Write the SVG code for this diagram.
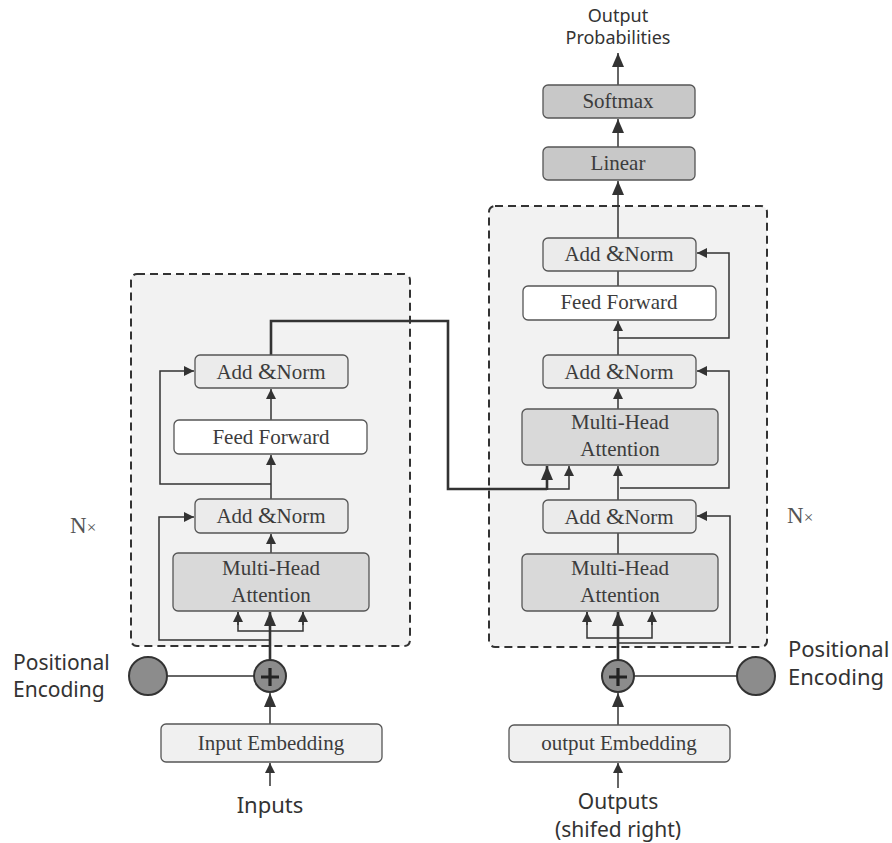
<svg xmlns="http://www.w3.org/2000/svg" width="892" height="843" viewBox="0 0 892 843">
<style>
.frame{fill:#f2f2f2;stroke:#333;stroke-width:2;stroke-dasharray:8 5}
.box{stroke:#555;stroke-width:1.3}
.an{fill:#ebebeb}.ff{fill:#ffffff}.mha{fill:#d9d9d9}.dk{fill:#c8c8c8}.emb{fill:#f0f0f0}
.t{font-family:"Liberation Serif","Times New Roman",serif;font-size:21px;fill:#3c3c3c;text-anchor:middle}
.s{font-family:"Noto Sans","Open Sans","DejaVu Sans",sans-serif;fill:#333}
.circ{fill:#8c8c8c;stroke:#333;stroke-width:2}
.c{fill:none;stroke:#333;stroke-width:1.5}
.ck{fill:none;stroke:#333;stroke-width:2.6}
.a{marker-end:url(#ar)}
.ak{marker-end:url(#ark)}
.nx{font-family:"Liberation Serif","Times New Roman",serif;font-size:23px;fill:#555}
</style>
<defs>
<marker id="ar" markerUnits="userSpaceOnUse" markerWidth="10" markerHeight="12" viewBox="0 0 10 12" refX="10" refY="6" orient="auto"><path d="M0,1 L10,6 L0,11 Z" fill="#333"/></marker>
<marker id="ark" markerUnits="userSpaceOnUse" markerWidth="14" markerHeight="14" viewBox="0 0 14 14" refX="14" refY="7" orient="auto"><path d="M0,1 L14,7 L0,13 Z" fill="#333"/></marker>
</defs>

<g id="encoder-frame"><rect class="frame" x="131" y="274" width="279" height="372" rx="6"/></g>
<g id="decoder-frame"><rect class="frame" x="489" y="206" width="278" height="441" rx="6"/></g>

<g id="connectors">
<!-- encoder -->
<line class="c a" x1="270" y1="786" x2="270" y2="763"/>
<line class="c ak" x1="270" y1="724" x2="270" y2="693"/>
<line class="c" x1="167" y1="676" x2="254" y2="676"/>
<line class="ck ak" x1="270" y1="660" x2="270" y2="612"/>
<polyline class="c" points="238,612 238,631 303,631 303,612"/>
<line class="c a" x1="238" y1="625" x2="238" y2="612"/>
<line class="c a" x1="303" y1="625" x2="303" y2="612"/>
<polyline class="c a" points="270,640 159,640 159,517 194,517"/>
<line class="c a" x1="271" y1="553" x2="271" y2="534"/>
<line class="c a" x1="271" y1="499" x2="271" y2="455"/>
<polyline class="c a" points="271,484 160,484 160,371 194,371"/>
<line class="c a" x1="271" y1="420" x2="271" y2="389"/>
<polyline class="ck" points="271,355 271,321 448,321 448,489 547,489"/>
<line class="ck ak" x1="547" y1="490" x2="547" y2="466"/>
<polyline class="c a" points="547,489 569,489 569,466"/>
<!-- decoder -->
<line class="c a" x1="618" y1="788" x2="618" y2="763"/>
<line class="c ak" x1="618" y1="725" x2="618" y2="693"/>
<line class="c" x1="634" y1="676" x2="737" y2="676"/>
<line class="ck ak" x1="618" y1="660" x2="618" y2="612"/>
<polyline class="c" points="587,612 587,638 652,638 652,612"/>
<line class="c a" x1="587" y1="625" x2="587" y2="612"/>
<line class="c a" x1="652" y1="625" x2="652" y2="612"/>
<polyline class="c a" points="618,643 730,643 730,516 697,516"/>
<line class="c" x1="618" y1="554" x2="618" y2="533"/>
<line class="c a" x1="618" y1="500" x2="618" y2="466"/>
<polyline class="c a" points="620,488 729,488 729,371 697,371"/>
<line class="c a" x1="618" y1="409" x2="618" y2="389"/>
<line class="c a" x1="618" y1="355" x2="618" y2="321"/>
<polyline class="c a" points="618,338 729,338 729,253 697,253"/>
<line class="c" x1="618" y1="286" x2="618" y2="271"/>
<line class="c ak" x1="618" y1="238" x2="618" y2="181"/>
<line class="c ak" x1="618" y1="147" x2="618" y2="119"/>
<line class="c ak" x1="618" y1="85" x2="618" y2="53"/>
</g>

<!-- encoder nodes -->
<g id="enc-mha"><rect class="box mha" x="173" y="553" width="196" height="58" rx="5"/><text class="t" x="271" y="575">Multi-Head</text><text class="t" x="271" y="602">Attention</text></g>
<g id="enc-addnorm1"><rect class="box an" x="195" y="499" width="153" height="34" rx="5"/><text class="t" x="271" y="523">Add <tspan font-size="24">&amp;</tspan>Norm</text></g>
<g id="enc-ff"><rect class="box ff" x="174" y="420" width="193" height="34" rx="5"/><text class="t" x="271" y="444">Feed Forward</text></g>
<g id="enc-addnorm2"><rect class="box an" x="195" y="355" width="153" height="33" rx="5"/><text class="t" x="271" y="379">Add <tspan font-size="24">&amp;</tspan>Norm</text></g>
<g id="enc-plus"><circle class="circ" cx="270" cy="676" r="16"/><path d="M261,677 H279 M270,668 V686" stroke="#222" stroke-width="3.2" fill="none"/></g>
<g id="enc-pos"><circle class="circ" cx="148" cy="676" r="19"/></g>
<g id="enc-pos-label"><text class="s" font-size="21" x="13" y="670">Positional</text><text class="s" font-size="21" x="13" y="697">Encoding</text></g>
<g id="enc-embed"><rect class="box emb" x="161" y="724" width="221" height="38" rx="5"/><text class="t" x="271" y="750">Input Embedding</text></g>
<g id="inputs"><text class="s" font-size="22" x="270" y="813" text-anchor="middle">Inputs</text></g>
<g id="enc-n"><text class="nx" x="70" y="533">N<tspan style="font-size:17px">×</tspan></text></g>

<!-- decoder nodes -->
<g id="dec-mha1"><rect class="box mha" x="522" y="554" width="196" height="57" rx="5"/><text class="t" x="620" y="575">Multi-Head</text><text class="t" x="620" y="602">Attention</text></g>
<g id="dec-addnorm1"><rect class="box an" x="543" y="500" width="153" height="33" rx="5"/><text class="t" x="619" y="524">Add <tspan font-size="24">&amp;</tspan>Norm</text></g>
<g id="dec-mha2"><rect class="box mha" x="522" y="409" width="196" height="56" rx="5"/><text class="t" x="620" y="429">Multi-Head</text><text class="t" x="620" y="456">Attention</text></g>
<g id="dec-addnorm2"><rect class="box an" x="543" y="355" width="153" height="33" rx="5"/><text class="t" x="619" y="379">Add <tspan font-size="24">&amp;</tspan>Norm</text></g>
<g id="dec-ff"><rect class="box ff" x="523" y="286" width="193" height="34" rx="5"/><text class="t" x="619" y="309">Feed Forward</text></g>
<g id="dec-addnorm3"><rect class="box an" x="543" y="238" width="153" height="33" rx="5"/><text class="t" x="619" y="261">Add <tspan font-size="24">&amp;</tspan>Norm</text></g>
<g id="linear"><rect class="box dk" x="543" y="147" width="152" height="33" rx="5"/><text class="t" x="618" y="170">Linear</text></g>
<g id="softmax"><rect class="box dk" x="543" y="85" width="152" height="33" rx="5"/><text class="t" x="618" y="108">Softmax</text></g>
<g id="out-prob"><text class="s" font-size="18" x="618" y="22" text-anchor="middle">Output</text><text class="s" font-size="18" x="618" y="44" text-anchor="middle">Probabilities</text></g>
<g id="dec-plus"><circle class="circ" cx="618" cy="676" r="16"/><path d="M609,677 H627 M618,668 V686" stroke="#222" stroke-width="3.2" fill="none"/></g>
<g id="dec-pos"><circle class="circ" cx="756" cy="676" r="19"/></g>
<g id="dec-pos-label"><text class="s" font-size="22" x="788" y="657">Positional</text><text class="s" font-size="22" x="788" y="685">Encoding</text></g>
<g id="dec-embed"><rect class="box emb" x="509" y="725" width="221" height="37" rx="5"/><text class="t" x="619" y="750">output Embedding</text></g>
<g id="outputs"><text class="s" font-size="21" x="618" y="809" text-anchor="middle">Outputs</text><text class="s" font-size="21" x="618" y="837" text-anchor="middle">(shifed right)</text></g>
<g id="dec-n"><text class="nx" x="787" y="523">N<tspan style="font-size:17px">×</tspan></text></g>
</svg>
